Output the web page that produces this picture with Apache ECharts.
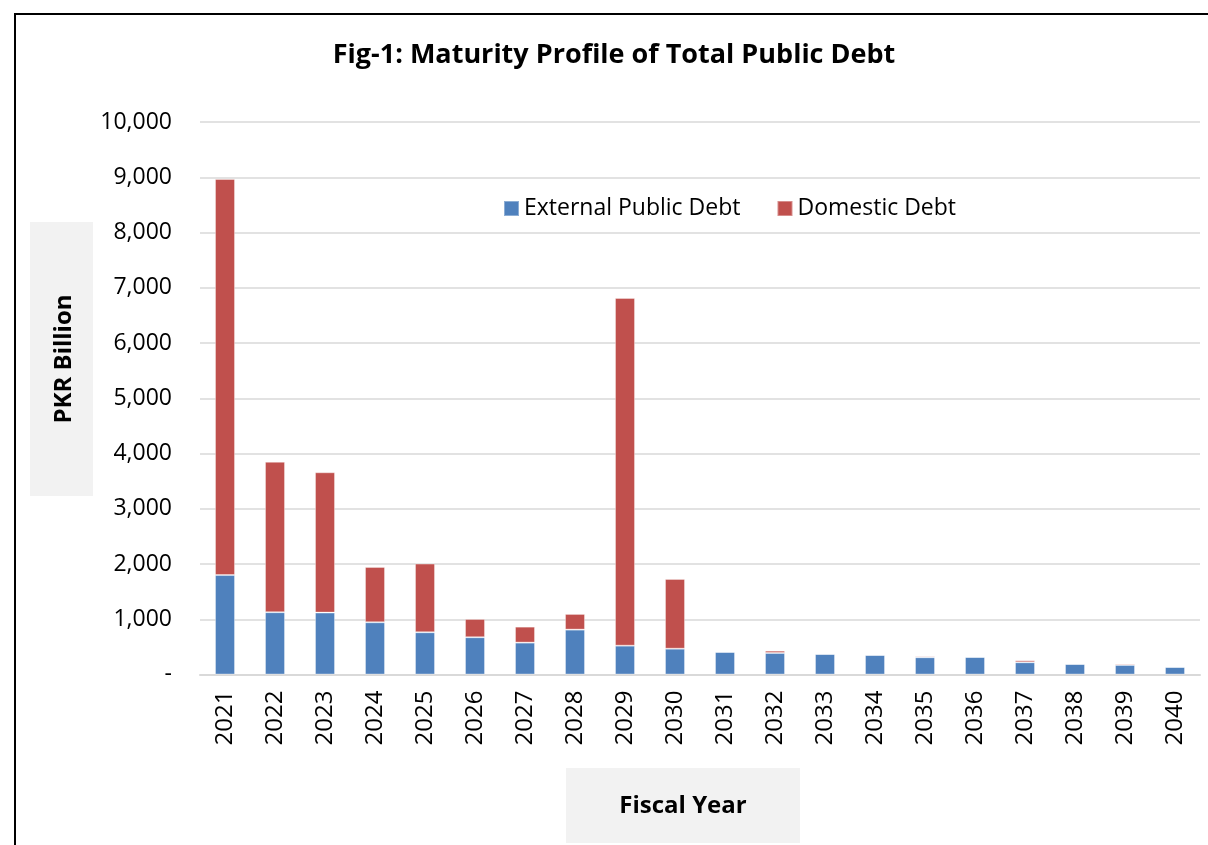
<!DOCTYPE html>
<html><head><meta charset="utf-8">
<script src="https://cdn.jsdelivr.net/npm/echarts@6/dist/echarts.min.js"></script>
<style>
html,body{margin:0;padding:0;background:#fff;}
#frame{position:absolute;left:14px;top:13px;width:1200px;height:840px;border-left:2px solid #000;border-top:2px solid #000;}
#c{position:absolute;left:0;top:0;width:1208px;height:845px;}
</style></head>
<body>
<div id="frame"></div>
<div id="c"></div>
<script>
const years = ['2021','2022','2023','2024','2025','2026','2027','2028','2029','2030','2031','2032','2033','2034','2035','2036','2037','2038','2039','2040'];
const externalDebt = [1800,1127,1120,945,764,674,577,812,522,467,408,389,371,353,312,317,221,190,172,136];
const domesticDebt = [7170,2723,2540,1002,1243,331,289,284,6293,1263,0,42,0,0,22,0,36,0,24,0];
const yTicks = [0,1000,2000,3000,4000,5000,6000,7000,8000,9000,10000];

const chart = echarts.init(document.getElementById('c'));
const font = '"Open Sans", Lato, sans-serif';
chart.setOption({
  animation:false,
  legend:{top:192,left:498,itemWidth:15,itemHeight:15,itemGap:36,icon:'rect',
    textStyle:{fontFamily:font,fontSize:23,color:'#000'},
    data:['External Public Debt','Domestic Debt']},
  graphic:[
    {type:'text',x:614,y:55,style:{text:'Fig-1: Maturity Profile of Total Public Debt',fontFamily:font,fontWeight:'bold',fontSize:27,fill:'#000',align:'center',verticalAlign:'middle'}},
    {type:'rect',shape:{x:30,y:222,width:63,height:274},style:{fill:'#f2f2f2'},z:-1},
    {type:'text',x:64,y:359,rotation:Math.PI/2,style:{text:'PKR Billion',fontFamily:font,fontWeight:'bold',fontSize:24,fill:'#000',align:'center',verticalAlign:'middle'}},
    {type:'rect',shape:{x:566,y:768,width:234,height:75},style:{fill:'#f2f2f2'},z:-1},
    {type:'text',x:683,y:806,style:{text:'Fiscal Year',fontFamily:font,fontWeight:'bold',fontSize:24,fill:'#000',align:'center',verticalAlign:'middle'}}
  ],
  grid:{left:200,right:8,top:122,bottom:170.5,containLabel:false},
  xAxis:{type:'category',data:years,
    axisLine:{lineStyle:{color:'#d9d9d9',width:2}},axisTick:{show:false},
    axisLabel:{rotate:90,fontFamily:font,fontSize:24,color:'#000',margin:16,interval:0}},
  yAxis:{type:'value',min:0,max:10000,interval:1000,
    axisLine:{show:false},axisTick:{show:false},
    splitLine:{lineStyle:{color:'#d9d9d9',width:1.5}},
    axisLabel:{fontFamily:font,fontSize:23,color:'#000',margin:28,
      formatter:v=>v===0?'-':v.toLocaleString('en-US')}},
  series:[
    {name:'External Public Debt',type:'bar',stack:'d',barWidth:20,data:externalDebt,
      itemStyle:{color:'#4f81bd',borderColor:'rgba(255,255,255,0.35)',borderWidth:1}},
    {name:'Domestic Debt',type:'bar',stack:'d',barWidth:20,data:domesticDebt,
      itemStyle:{color:'#c0504d',borderColor:'rgba(255,255,255,0.35)',borderWidth:1}}
  ]
});
</script>
</body></html>
